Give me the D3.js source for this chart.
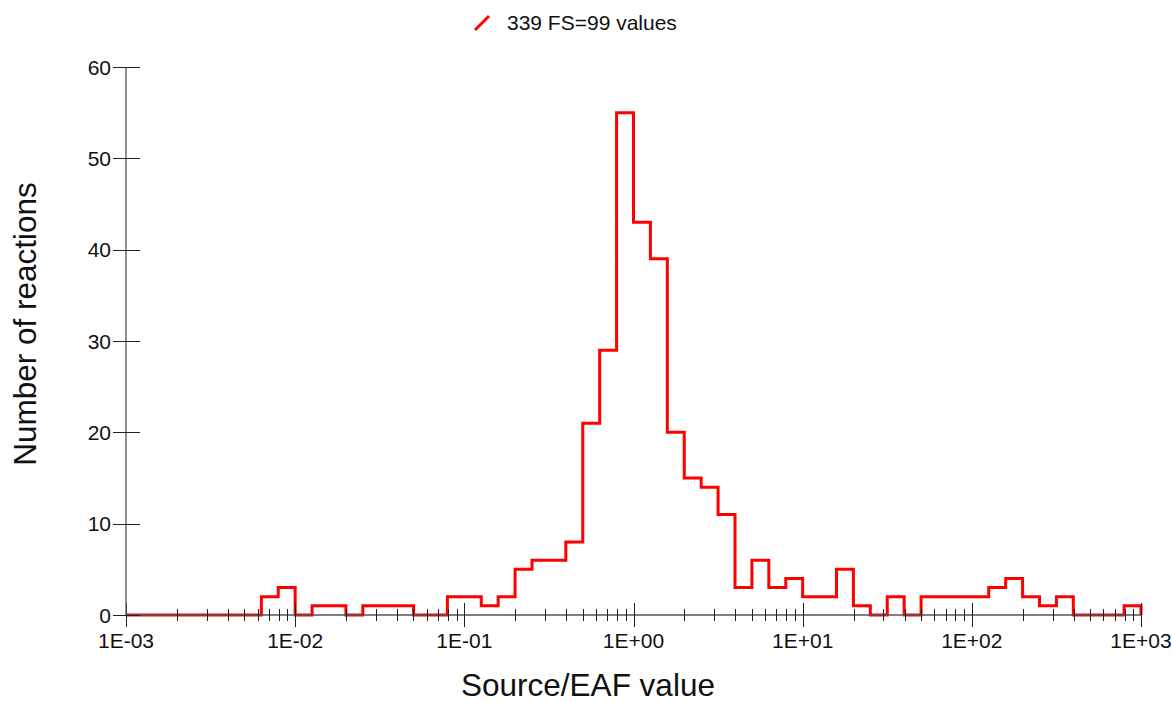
<!DOCTYPE html>
<html>
<head>
<meta charset="utf-8">
<script src="https://cdn.jsdelivr.net/npm/d3@7"></script>
<style>
  body { margin: 0; background: #fff; }
  svg { display: block; font-family: "Liberation Sans", Arial, sans-serif; }
</style>
</head>
<body>
<script>
const width = 1172;
const height = 702;

// histogram: 10 log-spaced bins per decade, 1E-03 .. 1E+03
const xDomain = [1e-3, 1e3];
const binsPerDecade = 10;
const counts = [
  0, 0, 0, 0, 0, 0, 0, 0, 2, 3,
  0, 1, 1, 0, 1, 1, 1, 0, 0, 2,
  2, 1, 2, 5, 6, 6, 8, 21, 29, 55,
  43, 39, 20, 15, 14, 11, 3, 6, 3, 4,
  2, 2, 5, 1, 0, 2, 0, 2, 2, 2,
  2, 3, 4, 2, 1, 2, 0, 0, 0, 1
];
const xTickValues = [1e-3, 1e-2, 1e-1, 1e0, 1e1, 1e2, 1e3];
const xTickLabels = ["1E-03", "1E-02", "1E-01", "1E+00", "1E+01", "1E+02", "1E+03"];
const yTickValues = [0, 10, 20, 30, 40, 50, 60];
const legendLabel = "339 FS=99 values";

const x = d3.scaleLog().domain(xDomain).range([126, 1141]);
const y = d3.scaleLinear().domain([0, 60]).range([615, 67]);

const svg = d3.select("body")
    .append("svg")
    .attr("width", width)
    .attr("height", height);

// bin edges
const logStart = Math.log10(xDomain[0]);
const edges = d3.range(counts.length + 1).map(i => Math.pow(10, logStart + i / binsPerDecade));

let pts = [[edges[0], 0]];
counts.forEach((c, i) => {
    pts.push([edges[i], c]);
    pts.push([edges[i + 1], c]);
});
pts.push([edges[counts.length], 0]);

const line = d3.line()
    .x(d => x(d[0]))
    .y(d => y(d[1]));

svg.append("path")
    .attr("d", line(pts))
    .attr("fill", "none")
    .attr("stroke", "#ff0000")
    .attr("stroke-width", 3)
    .attr("stroke-linejoin", "miter");

// x axis
const xAxis = svg.append("g");
xAxis.append("line")
    .attr("x1", x(xDomain[0])).attr("x2", x(xDomain[1]))
    .attr("y1", y(0)).attr("y2", y(0))
    .attr("stroke", "#555").attr("stroke-width", 1.3);

const minor = x.ticks().filter(v => !xTickValues.includes(v));
xAxis.selectAll(".minor")
    .data(minor)
    .enter()
    .append("line")
    .attr("class", "minor")
    .attr("x1", d => Math.round(x(d)) + 0.5).attr("x2", d => Math.round(x(d)) + 0.5)
    .attr("y1", y(0) - 6).attr("y2", y(0) + 6)
    .attr("stroke", "#222").attr("stroke-width", 1);

xAxis.selectAll(".major")
    .data(xTickValues)
    .enter()
    .append("line")
    .attr("class", "major")
    .attr("x1", d => Math.round(x(d)) + 0.5).attr("x2", d => Math.round(x(d)) + 0.5)
    .attr("y1", y(0) - 12).attr("y2", y(0) + 12)
    .attr("stroke", "#222").attr("stroke-width", 1);

xAxis.selectAll(".xlab")
    .data(xTickValues)
    .enter()
    .append("text")
    .attr("x", d => x(d))
    .attr("y", 648)
    .attr("text-anchor", "middle")
    .attr("font-size", 21)
    .attr("fill", "#111")
    .text((d, i) => xTickLabels[i]);

// y axis
const yAxis = svg.append("g");
yAxis.append("line")
    .attr("x1", x(xDomain[0])).attr("x2", x(xDomain[0]))
    .attr("y1", y(60)).attr("y2", y(0))
    .attr("stroke", "#555").attr("stroke-width", 1.3);

yAxis.selectAll(".ytick")
    .data(yTickValues)
    .enter()
    .append("line")
    .attr("x1", 113).attr("x2", 140)
    .attr("y1", d => Math.round(y(d)) + 0.5).attr("y2", d => Math.round(y(d)) + 0.5)
    .attr("stroke", "#222").attr("stroke-width", 1);

yAxis.selectAll(".ylab")
    .data(yTickValues)
    .enter()
    .append("text")
    .attr("x", 111)
    .attr("y", d => y(d) + 7.5)
    .attr("text-anchor", "end")
    .attr("font-size", 21)
    .attr("fill", "#111")
    .text(d => d);

// titles
svg.append("text")
    .attr("x", 588)
    .attr("y", 696)
    .attr("text-anchor", "middle")
    .attr("font-size", 31.5)
    .attr("fill", "#111")
    .text("Source/EAF value");

svg.append("text")
    .attr("transform", "translate(36,324) rotate(-90)")
    .attr("text-anchor", "middle")
    .attr("font-size", 31.5)
    .attr("fill", "#111")
    .text("Number of reactions");

// legend
svg.append("line")
    .attr("x1", 475).attr("y1", 30)
    .attr("x2", 489).attr("y2", 16)
    .attr("stroke", "#ff0000").attr("stroke-width", 3);

svg.append("text")
    .attr("x", 507)
    .attr("y", 30)
    .attr("font-size", 21)
    .attr("fill", "#111")
    .text(legendLabel);
</script>
</body>
</html>
